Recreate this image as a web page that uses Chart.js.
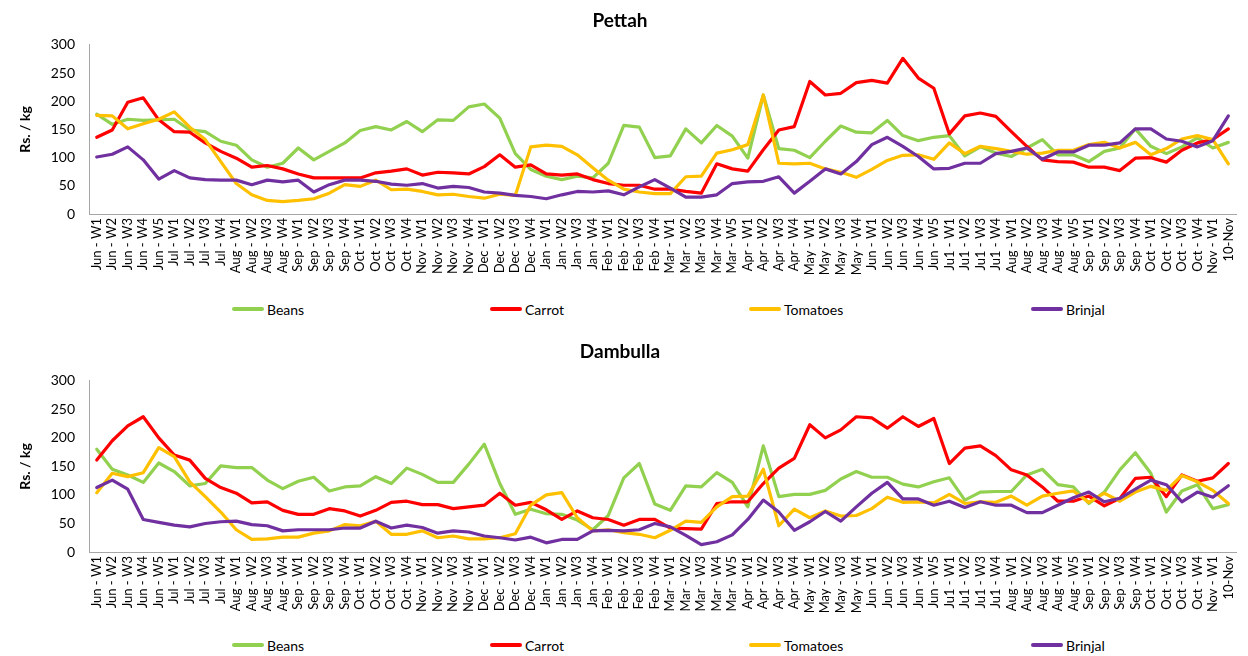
<!DOCTYPE html>
<html><head><meta charset="utf-8">
<script src="https://cdn.jsdelivr.net/npm/chart.js@4.4.1/dist/chart.umd.min.js"></script>
<style>
html,body{margin:0;padding:0;background:#fff;}
body{width:1248px;height:656px;position:relative;overflow:hidden;font-family:Lato,'Open Sans',sans-serif;}
.wrap{position:absolute;left:0;width:1248px;}
.legend{position:absolute;left:0;width:1248px;height:20px;}
.li{position:absolute;top:0;display:flex;align-items:center;height:20px;font-size:14px;color:#000;white-space:nowrap;}
.li .sw{display:inline-block;width:32px;height:4px;margin-right:3px;border-radius:2px;}
</style></head><body>
<div class="wrap" style="top:0;height:295px"><canvas id="c1" width="1248" height="295"></canvas></div>
<div class="legend" id="lg1" style="top:299px"></div>
<div class="wrap" style="top:330px;height:303px"><canvas id="c2" width="1248" height="303"></canvas></div>
<div class="legend" id="lg2" style="top:635px"></div>
<script>
const categories = [
 "Jun - W1","Jun - W2","Jun - W3","Jun - W4","Jun - W5",
 "Jul - W1","Jul - W2","Jul - W3","Jul - W4",
 "Aug - W1","Aug - W2","Aug - W3","Aug - W4",
 "Sep - W1","Sep - W2","Sep - W3","Sep - W4",
 "Oct - W1","Oct - W2","Oct - W3","Oct - W4",
 "Nov - W1","Nov - W2","Nov - W3","Nov - W4",
 "Dec - W1","Dec - W2","Dec - W3","Dec - W4",
 "Jan - W1","Jan - W2","Jan - W3","Jan - W4",
 "Feb - W1","Feb - W2","Feb - W3","Feb - W4",
 "Mar - W1","Mar - W2","Mar - W3","Mar - W4","Mar - W5",
 "Apr - W1","Apr - W2","Apr - W3","Apr - W4",
 "May - W1","May - W2","May - W3","May - W4",
 "Jun - W1","Jun - W2","Jun - W3","Jun - W4","Jun - W5",
 "Ju1 - W1","Ju1 - W2","Ju1 - W3","Ju1 - W4",
 "Aug - W1","Aug - W2","Aug - W3","Aug - W4","Aug - W5",
 "Sep - W1","Sep - W2","Sep - W3","Sep - W4",
 "Oct - W1","Oct - W2","Oct - W3","Oct - W4",
 "Nov - W1","10-Nov"
];
const seriesNames = ["Beans","Carrot","Tomatoes","Brinjal"];
const seriesColors = ["#92d050","#ff0000","#ffc000","#7030a0"];
const yTicks = {min:0, max:300, step:50};
const yTitle = "Rs. / kg";

const pettahBeans = [177,159,168,166,167,168,149,146,129,122,96,83,90,117,96,111,126,148,155,149,164,146,167,166,190,195,170,107,79,67,61,67,64,90,157,154,100,103,151,126,157,138,99,211,116,113,100,129,156,145,144,166,139,130,136,139,103,119,108,102,117,132,105,105,93,111,117,151,120,107,119,135,117,127];
const pettahCarrot = [136,149,198,206,167,146,145,126,111,99,83,86,80,71,64,64,64,64,73,76,80,69,74,73,71,84,105,83,87,71,69,71,61,54,51,51,44,44,40,37,89,80,76,114,149,155,235,211,214,233,237,232,276,241,223,142,174,179,173,146,120,96,93,92,83,83,77,99,100,92,113,126,132,151];
const pettahTomatoes = [175,174,151,160,168,181,154,132,93,54,34,24,22,24,27,37,52,49,60,43,44,40,34,35,31,28,35,33,119,122,120,105,82,60,44,39,36,36,66,67,108,114,123,211,90,89,90,80,74,65,79,95,104,105,97,126,107,120,116,111,106,108,113,113,123,127,117,127,105,116,133,139,132,89];
const pettahBrinjal = [101,106,119,96,62,77,64,61,60,60,52,60,57,60,39,52,60,60,58,53,51,54,46,49,47,39,37,33,31,27,34,40,39,41,34,48,61,46,30,30,34,54,57,58,66,37,58,80,71,93,123,136,120,102,80,81,90,90,107,111,117,97,110,110,122,122,126,151,151,133,129,119,130,174];

const dambullaBeans = [180,145,135,122,156,141,116,120,151,148,148,126,111,124,131,107,114,116,132,120,147,136,122,122,154,189,120,66,75,67,66,56,39,64,130,155,84,73,116,114,139,122,79,186,97,101,101,108,128,141,131,131,119,114,123,130,91,105,106,106,135,145,118,114,85,105,144,174,138,70,107,118,76,83];
const dambullaCarrot = [161,195,221,237,200,170,161,129,113,103,86,88,73,66,66,76,72,63,73,87,89,83,83,76,79,82,103,82,87,74,57,72,60,57,47,57,57,42,41,40,85,88,88,120,147,164,223,200,214,237,235,217,237,220,234,155,182,186,169,144,135,114,89,89,98,81,94,129,131,97,135,124,130,155];
const dambullaTomatoes = [104,138,132,139,183,167,123,97,70,39,22,23,26,26,33,37,48,46,54,31,31,37,25,28,23,23,25,32,82,100,104,60,37,39,34,31,25,38,54,52,79,97,98,145,46,75,60,72,63,64,76,96,87,88,86,101,85,88,87,98,82,98,103,107,87,103,89,105,115,108,134,123,108,85];
const dambullaBrinjal = [113,126,110,57,52,47,44,50,53,54,48,46,37,39,39,39,42,42,54,42,47,43,33,37,35,28,25,21,26,16,22,22,37,38,37,39,50,44,29,13,18,30,57,91,70,38,53,71,54,79,103,122,93,93,82,89,78,88,82,82,69,69,82,95,105,88,94,110,126,118,88,105,96,116];

Chart.defaults.font.family = "Lato, 'Open Sans', sans-serif";
Chart.defaults.color = "#000";

function build(id, title, seriesData, cfg) {
  return new Chart(document.getElementById(id), {
    type: 'line',
    data: {
      labels: categories,
      datasets: seriesNames.map((n, i) => ({
        label: n, data: seriesData[i],
        borderColor: seriesColors[i], backgroundColor: seriesColors[i],
        borderWidth: 3.2, pointRadius: 0, pointHoverRadius: 0, tension: 0, fill: false,
        borderJoinStyle: 'round', borderCapStyle: 'round', order: 4 - i
      }))
    },
    options: {
      responsive: false, animation: false, events: [],
      layout: {padding: {left: 0, right: 8, top: 0, bottom: 0}},
      plugins: {
        legend: {display: false}, tooltip: {enabled: false},
        title: {display: true, text: title, color: '#000',
          font: {size: 19, weight: 'bold'}, padding: {top: cfg.tTop, bottom: cfg.tBottom}}
      },
      scales: {
        x: {
          type: 'category', offset: true,
          grid: {display: false, drawTicks: false},
          border: {display: true, color: '#a6a6a6', width: 1},
          ticks: {autoSkip: false, maxRotation: 90, minRotation: 90, padding: 4, color: '#000', font: {size: 13}},
          afterFit: (s) => { s.height = cfg.xH; }
        },
        y: {
          min: yTicks.min, max: yTicks.max,
          grid: {display: false, drawTicks: false},
          border: {display: true, color: '#a6a6a6', width: 1},
          ticks: {stepSize: yTicks.step, padding: 14, color: '#000', font: {size: 14}},
          title: {display: true, text: yTitle, color: '#000', font: {size: 14, weight: 'bold'}, padding: {top: 17, bottom: 0}},
          afterFit: (s) => { s.width = 89; }
        }
      }
    }
  });
}

function legend(id) {
  const el = document.getElementById(id);
  const lefts = [232, 490, 749, 1031];
  seriesNames.forEach((n, i) => {
    const d = document.createElement('div');
    d.className = 'li';
    d.style.left = lefts[i] + 'px';
    const sw = document.createElement('span');
    sw.className = 'sw';
    sw.style.background = seriesColors[i];
    d.appendChild(sw);
    d.appendChild(document.createTextNode(n));
    el.appendChild(d);
  });
}

build('c1', 'Pettah', [pettahBeans, pettahCarrot, pettahTomatoes, pettahBrinjal], {tTop: 9, tBottom: 13, xH: 81});
build('c2', 'Dambulla', [dambullaBeans, dambullaCarrot, dambullaTomatoes, dambullaBrinjal], {tTop: 10, tBottom: 18, xH: 81});
legend('lg1');
legend('lg2');
</script>
</body></html>
